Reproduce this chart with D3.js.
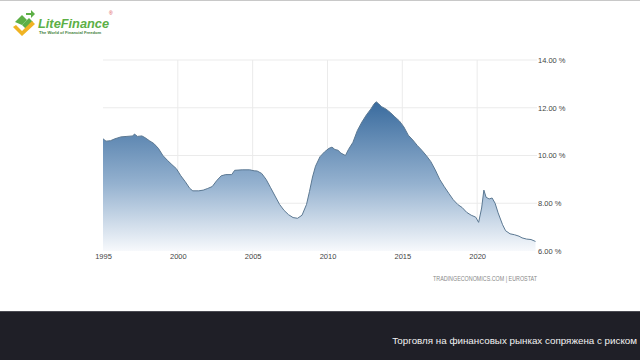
<!DOCTYPE html>
<html><head><meta charset="utf-8">
<script src="https://cdn.jsdelivr.net/npm/d3@7/dist/d3.min.js"></script>
<style>html,body{margin:0;padding:0;background:#fff;}svg{display:block;}</style>
</head><body>
<script>
const years = [1995.0,1995.2,1995.5,1995.8,1996.2,1996.6,1997.0,1997.1,1997.3,1997.6,1997.8,1998.1,1998.4,1998.7,1999.0,1999.3,1999.6,1999.9,2000.2,2000.5,2000.8,2001.0,2001.4,2001.7,2002.0,2002.3,2002.6,2002.9,2003.2,2003.6,2003.8,2004.3,2004.8,2005.1,2005.3,2005.6,2005.9,2006.2,2006.5,2006.8,2007.1,2007.4,2007.7,2008.0,2008.3,2008.6,2008.8,2009.0,2009.2,2009.5,2009.8,2010.1,2010.3,2010.5,2010.7,2010.9,2011.2,2011.4,2011.7,2012.0,2012.3,2012.6,2012.9,2013.1,2013.25,2013.4,2013.6,2013.9,2014.2,2014.5,2014.8,2015.1,2015.4,2015.7,2016.0,2016.3,2016.6,2016.9,2017.2,2017.5,2017.8,2018.1,2018.4,2018.7,2019.0,2019.3,2019.6,2019.9,2020.1,2020.3,2020.45,2020.6,2020.8,2021.0,2021.2,2021.4,2021.7,2021.9,2022.2,2022.5,2022.8,2023.0,2023.3,2023.6,2023.9];
const rates = [10.70,10.60,10.62,10.70,10.78,10.80,10.82,10.90,10.80,10.82,10.75,10.62,10.50,10.30,10.00,9.80,9.62,9.45,9.15,8.90,8.62,8.52,8.52,8.55,8.62,8.70,8.95,9.15,9.20,9.20,9.38,9.40,9.40,9.36,9.35,9.25,9.00,8.65,8.30,7.95,7.70,7.52,7.40,7.37,7.50,7.95,8.50,9.10,9.55,9.95,10.15,10.30,10.35,10.25,10.22,10.10,10.00,10.25,10.55,11.05,11.40,11.70,11.95,12.15,12.25,12.18,12.05,11.95,11.80,11.62,11.45,11.20,10.85,10.65,10.42,10.22,10.00,9.75,9.40,9.00,8.70,8.42,8.15,7.95,7.82,7.62,7.50,7.42,7.20,7.80,8.55,8.25,8.18,8.22,8.00,7.60,7.10,6.85,6.72,6.68,6.62,6.55,6.50,6.48,6.40];
const xTicks = [1995,2000,2005,2010,2015,2020];
const yTicks = [6,8,10,12,14];
const sourceText = "TRADINGECONOMICS.COM | EUROSTAT";
const disclaimer = "Торговля на финансовых рынках сопряжена с риском";

const W=640,H=360;
const svg=d3.select("body").append("svg").attr("width",W).attr("height",H);
svg.append("rect").attr("width",W).attr("height",H).attr("fill","#fff");
svg.append("rect").attr("width",W).attr("height",1).attr("fill","#c8c8c8");

const x=d3.scaleLinear().domain([1995,2024]).range([103,537]);
const y=d3.scaleLinear().domain([6,14]).range([251,60]);
const data=years.map((t,i)=>({t,v:rates[i]}));

const defs=svg.append("defs");
const g=defs.append("linearGradient").attr("id","ag").attr("gradientUnits","userSpaceOnUse")
  .attr("x1",0).attr("x2",0).attr("y1",y(12.3)).attr("y2",y(6));
g.append("stop").attr("offset",0).attr("stop-color","#386a9d");
g.append("stop").attr("offset",0.55).attr("stop-color","#94b1cf");
g.append("stop").attr("offset",1).attr("stop-color","#f7f9fc");

// gridlines
svg.append("g").selectAll("line").data(yTicks.filter(d=>d>6)).join("line")
  .attr("x1",103).attr("x2",537).attr("y1",d=>y(d)).attr("y2",d=>y(d))
  .attr("stroke","#ebebeb").attr("stroke-width",1);
svg.append("g").selectAll("line").data(xTicks.slice(1)).join("line")
  .attr("x1",d=>x(d)).attr("x2",d=>x(d)).attr("y1",60).attr("y2",255)
  .attr("stroke","#ebebeb").attr("stroke-width",1);

const area=d3.area().x(d=>x(d.t)).y0(y(6)).y1(d=>y(d.v));
svg.append("path").datum(data).attr("d",area).attr("fill","url(#ag)");
const line=d3.line().x(d=>x(d.t)).y(d=>y(d.v));
svg.append("path").datum(data).attr("d",line).attr("fill","none").attr("stroke","#5b7892").attr("stroke-width",1);

// y axis labels (right)
const yAxis=d3.axisRight(y).tickValues(yTicks).tickSize(0).tickPadding(0)
  .tickFormat(d=>d3.format(".2f")(d)+" %");
const ya=svg.append("g").attr("transform","translate(538,0)").call(yAxis);
ya.select(".domain").remove();
ya.selectAll("text").attr("font-family","Liberation Sans, Arial, sans-serif").attr("font-size","7.5px").attr("fill","#444");

// x axis labels
const xAxis=d3.axisBottom(x).tickValues(xTicks).tickSize(0).tickPadding(0).tickFormat(d3.format("d"));
const xa=svg.append("g").attr("transform","translate(0,254)").call(xAxis);
xa.select(".domain").remove();
xa.selectAll("text").attr("font-family","Liberation Sans, Arial, sans-serif").attr("font-size","7.5px").attr("fill","#444");

svg.append("text").attr("x",537).attr("y",281).attr("text-anchor","end")
  .attr("font-family","Liberation Sans, Arial, sans-serif").attr("font-size","6.4px").attr("fill","#888")
  .attr("textLength",104).attr("lengthAdjust","spacingAndGlyphs")
  .text(sourceText);

// bottom bar
svg.append("rect").attr("x",0).attr("y",311).attr("width",W).attr("height",49).attr("fill","#1f1f27");
svg.append("rect").attr("x",0).attr("y",311).attr("width",W).attr("height",1).attr("fill","#4a4a52");
svg.append("text").attr("x",637).attr("y",344).attr("text-anchor","end")
  .attr("font-family","Liberation Sans, Arial, sans-serif").attr("font-size","9.8px").attr("fill","#f2f2f2")
  .text(disclaimer);

// logo
const lg=svg.append("g");
lg.append("path").attr("d","M15,22 L22,15 L27,20 L22,25 Z").attr("fill","#5daf46");
lg.append("path").attr("d","M22,25 L29,18 L33,22 L26,29 Z").attr("fill","#5daf46");
lg.append("path").attr("d","M16,25 L22,31 L32,21 L35,24 L22,36 L13,27 Z").attr("fill","#f0b323");
lg.append("path").attr("d","M26,13 L31,13 L31,10 L35,14 L31,18 L31,15 L26,15 Z").attr("fill","#5daf46");
lg.append("text").attr("x",38).attr("y",28).attr("font-family","Liberation Sans, Arial, sans-serif")
  .attr("font-size","12.8px").attr("font-weight","bold").attr("font-style","italic").attr("fill","#5cb046").text("LiteFinance");
lg.append("text").attr("x",109).attr("y",15).attr("font-family","Liberation Sans, Arial, sans-serif")
  .attr("font-size","5px").attr("fill","#d9413c").text("®");
lg.append("text").attr("x",39).attr("y",34).attr("font-family","Liberation Sans, Arial, sans-serif")
  .attr("font-size","4.1px").attr("font-weight","bold").attr("fill","#3f7f3a").text("The World of Financial Freedom");
</script>
</body></html>
